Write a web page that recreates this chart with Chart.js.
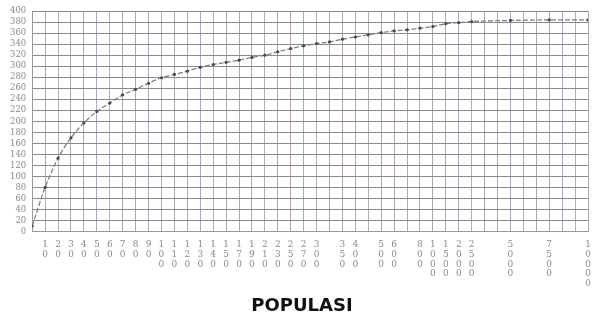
<!DOCTYPE html>
<html>
<head>
<meta charset="utf-8">
<script src="https://cdn.jsdelivr.net/npm/chart.js@4"></script>
<style>
  html, body { margin: 0; padding: 0; background: #fff; }
  #wrap { width: 592px; height: 315px; }
</style>
</head>
<body>
<div id="wrap"><canvas id="grafik"></canvas></div>
<script>
// posisi kolom grid (slot) dan nilai sampel yang dibaca dari gambar
const slotKurva = [0, 1, 2, 3, 4, 5, 6, 7, 8, 9, 10, 11, 12, 13, 14, 15, 16, 17, 18, 19, 20,
                   21, 22, 23, 24, 25, 26, 27, 28, 29, 30, 31, 32, 33, 34, 37, 40, 43];
const nilaiSampel = [10, 80, 133, 170, 197, 218, 233, 248, 258, 269, 279, 285, 291, 298, 303, 307, 311, 316, 320, 326, 332,
                     337, 341, 344, 349, 353, 357, 361, 364, 366, 369, 372, 377, 379, 381, 383, 384, 384];

// label populasi di sumbu x dan slot tempatnya
const labelPopulasi = ["10", "20", "30", "40", "50", "60", "70", "80", "90",
                       "100", "110", "120", "130", "140", "150", "170", "190", "210", "230", "250", "270", "300",
                       "350", "400", "500", "600", "800", "1000", "1500", "2000", "2500", "5000", "7500", "10000"];
const slotLabel = [1, 2, 3, 4, 5, 6, 7, 8, 9,
                   10, 11, 12, 13, 14, 15, 16, 17, 18, 19, 20, 21, 22,
                   24, 25, 27, 28, 30, 31, 32, 33, 34, 37, 40, 43];

const warnaGaris = ["#b9a3ad", "#a3aec6", "#aab7ad", "#a9a9b3"];

const ctx = document.getElementById("grafik").getContext("2d");
new Chart(ctx, {
    type: "line",
    data: {
        datasets: [{
            data: slotKurva.map((s, i) => ({ x: s, y: nilaiSampel[i] })),
            borderColor: "#7a7a7a",
            borderWidth: 1.2,
            borderDash: [5, 2],
            pointRadius: 1.6,
            pointBackgroundColor: "#4a4a4a",
            pointBorderWidth: 0,
            cubicInterpolationMode: "monotone",
            fill: false
        }]
    },
    options: {
        responsive: true,
        maintainAspectRatio: false,
        animation: false,
        layout: { padding: { left: 4, top: 6, right: -8, bottom: 0 } },
        plugins: {
            legend: { display: false },
            tooltip: { enabled: false },
            title: {
                display: true,
                position: "bottom",
                text: "POPULASI",
                color: "#111",
                font: { family: "DejaVu Sans", size: 18, weight: "bold", lineHeight: 1.0 },
                padding: { top: 0, bottom: 0 }
            }
        },
        scales: {
            x: {
                type: "linear",
                min: 0,
                max: 43,
                afterFit: s => { s.paddingRight = 0; },
                grid: {
                    drawTicks: false,
                    color: c => warnaGaris[c.index % warnaGaris.length],
                    lineWidth: 1
                },
                border: { color: "#9a9a9a" },
                ticks: {
                    stepSize: 1,
                    autoSkip: false,
                    maxRotation: 0,
                    padding: 8,
                    color: "#8a8a8a",
                    font: { family: "DejaVu Serif", size: 9, lineHeight: 1.1 },
                    callback: v => {
                        const i = slotLabel.indexOf(v);
                        return i < 0 ? "" : labelPopulasi[i].split("");
                    }
                }
            },
            y: {
                min: 0,
                max: 400,
                grid: { drawTicks: false, color: "#8a8a8a", lineWidth: 1 },
                border: { color: "#9a9a9a" },
                ticks: {
                    stepSize: 20,
                    autoSkip: false,
                    padding: 6,
                    color: "#8a8a8a",
                    font: { family: "DejaVu Serif", size: 8.5 }
                }
            }
        }
    }
});
</script>
</body>
</html>
